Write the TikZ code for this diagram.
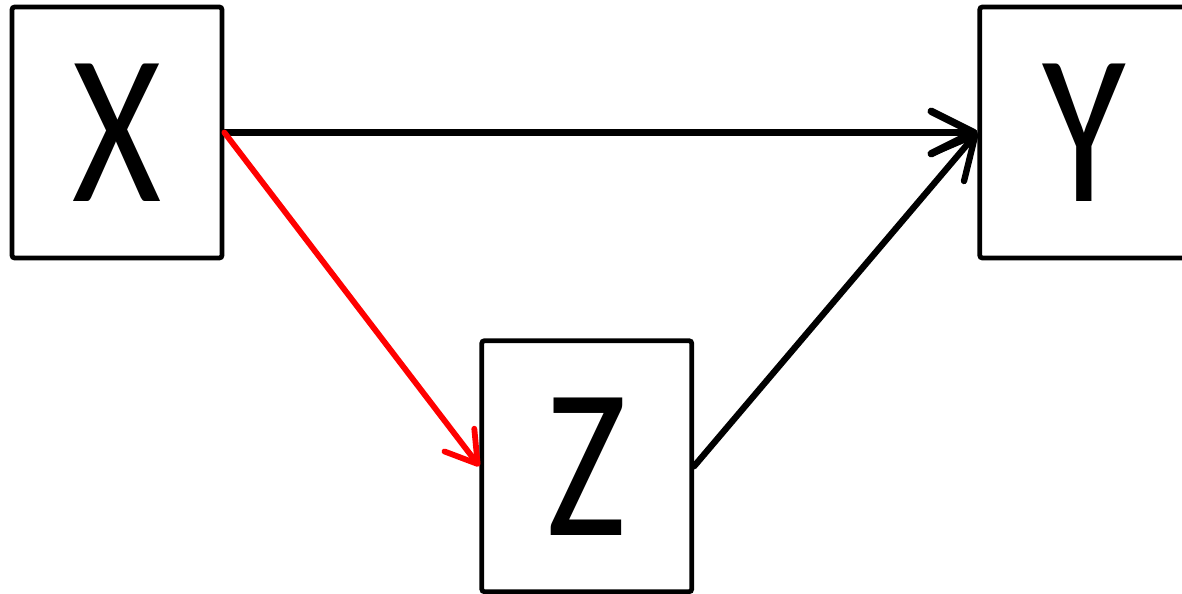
\documentclass[tikz,border=0pt]{standalone}
\usepackage{fontspec}
\setmainfont{Carlito}
\newfontfamily\boxfont[FakeStretch=0.8]{Carlito}
\usetikzlibrary{arrows.meta, positioning}

\begin{document}
\begin{tikzpicture}[
    var/.style={rectangle, draw, line width=2.7pt, minimum width=4.2cm, minimum height=5.02cm, rounded corners=1.5pt, inner sep=0pt, font=\boxfont\fontsize{122}{122}\selectfont},
    arr/.style={-{Straight Barb[length=0.85cm, width=0.85cm, round]}, line width=4.2pt, line cap=round},
    redarr/.style={-{Straight Barb[length=0.6cm, width=0.75cm, round]}, line width=3.3pt, line cap=round, color=red}
]
    \useasboundingbox (0,0) rectangle (23.64,11.86);
    \node (x) [var] at (2.34,9.21) {X};
    \node (y) [var, right=15.06cm of x] {Y};
    \node (z) [var, below right=1.56cm and 5.1cm of x] {Z};

    \draw[arr] (x.east) -- (y.west);
    \draw[redarr] (x.east) -- (z.west);
    \draw[arr, line width=3.6pt] (z.east) -- (y.west);
\end{tikzpicture}
\end{document}
